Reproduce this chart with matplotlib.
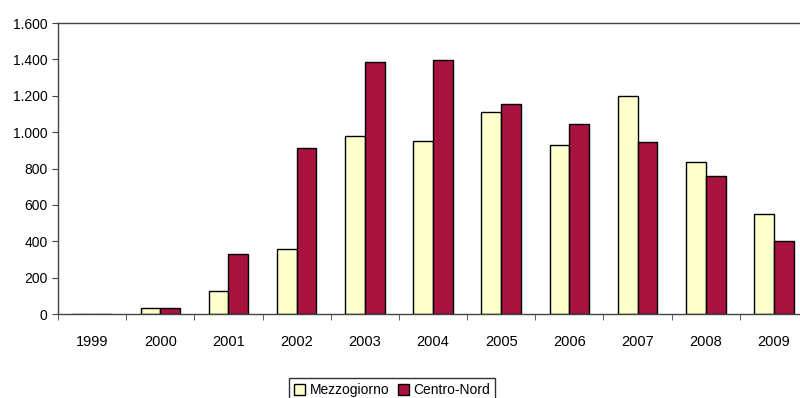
import matplotlib

matplotlib.use("Agg")
import matplotlib.pyplot as plt
import numpy as np
from matplotlib.ticker import FuncFormatter

years = ["1999", "2000", "2001", "2002", "2003", "2004", "2005", "2006", "2007", "2008", "2009"]
mezzogiorno = [0, 35, 126, 357, 978, 951, 1110, 929, 1198, 835, 550]
centro_nord = [0, 35, 330, 913, 1385, 1396, 1154, 1044, 945, 758, 401]
y_ticks = [0, 200, 400, 600, 800, 1000, 1200, 1400, 1600]

plt.rcParams["font.family"] = ["Liberation Sans", "DejaVu Sans"]

fig = plt.figure(figsize=(8.0, 3.98), dpi=100)
ax = fig.add_axes([0.0725, 0.211, 0.9375, 0.731])

x = np.arange(len(years))
w = 0.29
ax.bar(x - w / 2, mezzogiorno, width=w, color="#FFFFCC", edgecolor="black",
       linewidth=1.0, label="Mezzogiorno")
ax.bar(x + w / 2, centro_nord, width=w, color="#A8123E", edgecolor="black",
       linewidth=1.0, label="Centro-Nord")

ax.set_xlim(-0.5, len(years) - 0.5)
ax.set_ylim(0, 1600)
ax.set_yticks(y_ticks)
ax.yaxis.set_major_formatter(FuncFormatter(lambda v, _: f"{int(v):,}".replace(",", ".")))

# category labels centred, tick marks on the boundaries
ax.set_xticks(x)
ax.set_xticklabels(years)
ax.tick_params(axis="x", which="major", length=0, pad=15, labelsize=10.5)
ax.set_xticks(np.arange(len(years) + 1) - 0.5, minor=True)
ax.tick_params(axis="x", which="minor", length=4, direction="out", color="#444444")
ax.tick_params(axis="y", length=4, direction="out", labelsize=10, color="#444444")

for side in ("left", "bottom", "top", "right"):
    ax.spines[side].set_color("#444444")
    ax.spines[side].set_linewidth(1.0)

fig.legend(loc="lower center", bbox_to_anchor=(0.49, -0.03), ncol=2, frameon=True,
           fancybox=False, edgecolor="black", fontsize=10, handlelength=0.8,
           handleheight=0.8, handletextpad=0.3, columnspacing=0.6,
           borderpad=0.4)

fig.savefig("out.png", dpi=100)
